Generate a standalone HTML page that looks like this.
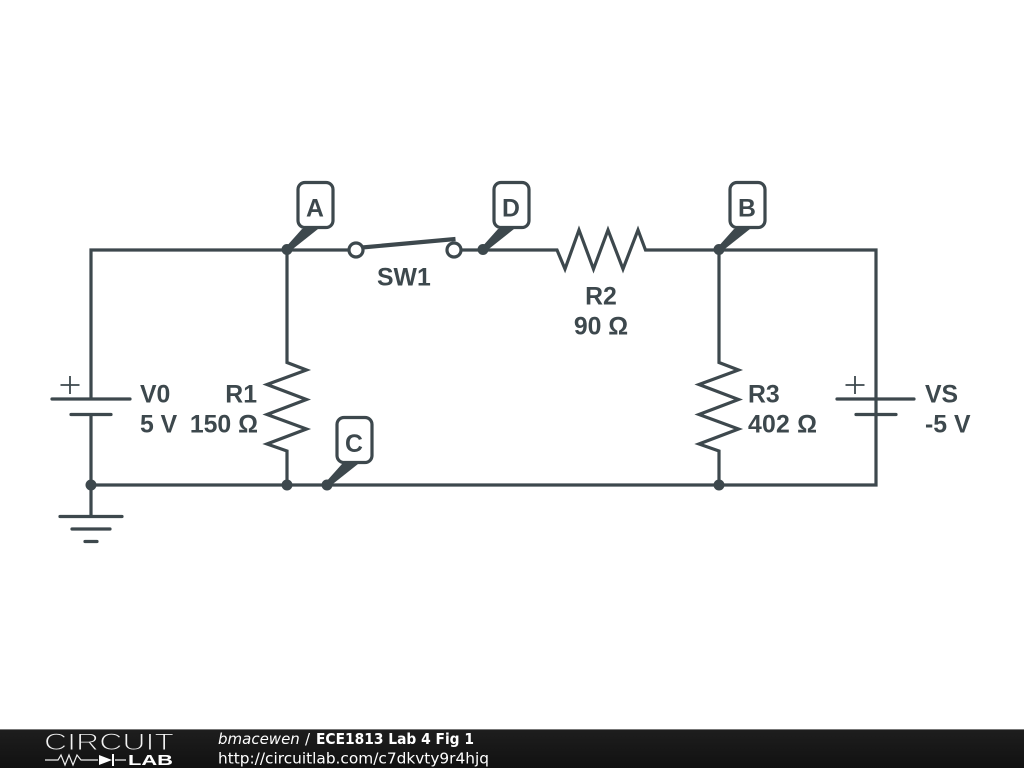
<!DOCTYPE html>
<html><head><meta charset="utf-8"><style>
html,body{margin:0;padding:0;background:#fff;width:1024px;height:768px;overflow:hidden}
svg{display:block}
.t{font-family:"Liberation Sans",sans-serif;font-weight:bold;font-size:24.8px;fill:#3d484d}
.f{font-family:"DejaVu Sans",sans-serif;font-size:15px;fill:#fff}
</style></head><body>
<svg width="1024" height="768" viewBox="0 0 1024 768" xmlns="http://www.w3.org/2000/svg">
<defs><linearGradient id="g" x1="0" y1="0" x2="0" y2="1"><stop offset="0" stop-color="#1e1e1e"/><stop offset="1" stop-color="#111"/></linearGradient></defs>
<g fill="none" stroke="#3d484d" stroke-width="3.200" stroke-linejoin="miter" stroke-linecap="butt">
<path d="M91 399V250H349M461 250H557L565 269L579 230L593.500 269L608 230L623 269L638 230L645.500 250H876V485H91"/>
<path d="M91 414V516"/>
<path d="M287 250V362.500L306.500 370L267 384.500L306.500 399.500L267 414.500L306.500 429L267 444L287 451V485"/>
<path d="M719 250V362.500L738.500 370L699 384.500L738.500 399.500L699 414.500L738.500 429L699 444L719 451V485"/>
<g stroke-linecap="round">
<path d="M52 399H130M71 414.500H111M60 516.500H122M72 529H110M85 541.500H97"/>
<path d="M837 399H914M856 414.500H896"/>
</g>
<path d="M362 247.500L455.500 239" stroke-width="4.200"/>
<path d="M60.500 385H79.500M70 376V394M845.500 385H864.500M855 376V394" stroke-width="1.800"/>
<circle cx="356" cy="250" r="7" fill="#fff"/>
<circle cx="454" cy="250" r="7" fill="#fff"/>
<rect x="298" y="182.500" width="35" height="45" rx="7" fill="#fff"/>
<rect x="494" y="182.500" width="35" height="45" rx="7" fill="#fff"/>
<rect x="730" y="182.500" width="35" height="45" rx="7" fill="#fff"/>
<rect x="337" y="417.500" width="35" height="45" rx="7" fill="#fff"/>
</g>
<g fill="#3d484d">
<path d="M285 248L302 229H318L289 252Z"/>
<path d="M481 248L498 229H514L485 252Z"/>
<path d="M717 248L734 229H750L721 252Z"/>
<path d="M325 483L342 464H358L329 487Z"/>
<circle cx="287" cy="249.500" r="5.500"/>
<circle cx="483" cy="249.500" r="5.500"/>
<circle cx="719" cy="249.500" r="5.500"/>
<circle cx="91" cy="485" r="5.500"/>
<circle cx="287" cy="485" r="5.500"/>
<circle cx="327" cy="485" r="5.500"/>
<circle cx="719" cy="485" r="5.500"/>
</g>
<text class="t" x="315" y="216.500" text-anchor="middle">A</text>
<text class="t" x="511" y="216.500" text-anchor="middle">D</text>
<text class="t" x="747" y="216.500" text-anchor="middle">B</text>
<text class="t" x="354" y="452" text-anchor="middle">C</text>
<text class="t" x="377" y="285.500">SW1</text>
<text class="t" x="601" y="304.500" text-anchor="middle">R2</text>
<text class="t" x="601" y="334.500" text-anchor="middle">90 Ω</text>
<text class="t" x="140" y="402.300">V0</text>
<text class="t" x="140" y="432.300">5 V</text>
<text class="t" x="257" y="402.300" text-anchor="end">R1</text>
<text class="t" x="258" y="432.300" text-anchor="end">150 Ω</text>
<text class="t" x="748" y="402.300">R3</text>
<text class="t" x="748" y="432.300" textLength="69" lengthAdjust="spacing">402 Ω</text>
<text class="t" x="925" y="402.300">VS</text>
<text class="t" x="925" y="432.300">-5 V</text>
<rect x="0" y="729" width="1024" height="39" fill="url(#g)"/>
<rect x="0" y="729" width="1024" height="1" fill="#777"/>
<text x="44" y="750" font-family="Liberation Sans,sans-serif" font-size="24.500" fill="#f2f2f2" stroke="#1a1a1a" stroke-width="1" textLength="130" lengthAdjust="spacingAndGlyphs">CIRCUIT</text>
<path d="M45 760H58L61 755L65 765L69 755L73 765L77 755L81 760H98M115 760H126" fill="none" stroke="#eee" stroke-width="1.200"/>
<path d="M99 755L112 760L99 765Z" fill="#fff"/>
<rect x="112" y="754" width="2" height="12" fill="#fff"/>
<text x="128" y="765" font-family="Liberation Sans,sans-serif" font-size="14.500" font-weight="bold" fill="#fff" textLength="45" lengthAdjust="spacingAndGlyphs">LAB</text>
<text class="f" x="218" y="744" font-style="italic">bmacewen</text>
<text class="f" x="305" y="744">/</text>
<text class="f" x="316" y="744" font-weight="bold" textLength="158" lengthAdjust="spacingAndGlyphs">ECE1813 Lab 4 Fig 1</text>
<text class="f" x="218" y="763.500" textLength="271" lengthAdjust="spacingAndGlyphs">http://circuitlab.com/c7dkvty9r4hjq</text>
</svg>
</body></html>
